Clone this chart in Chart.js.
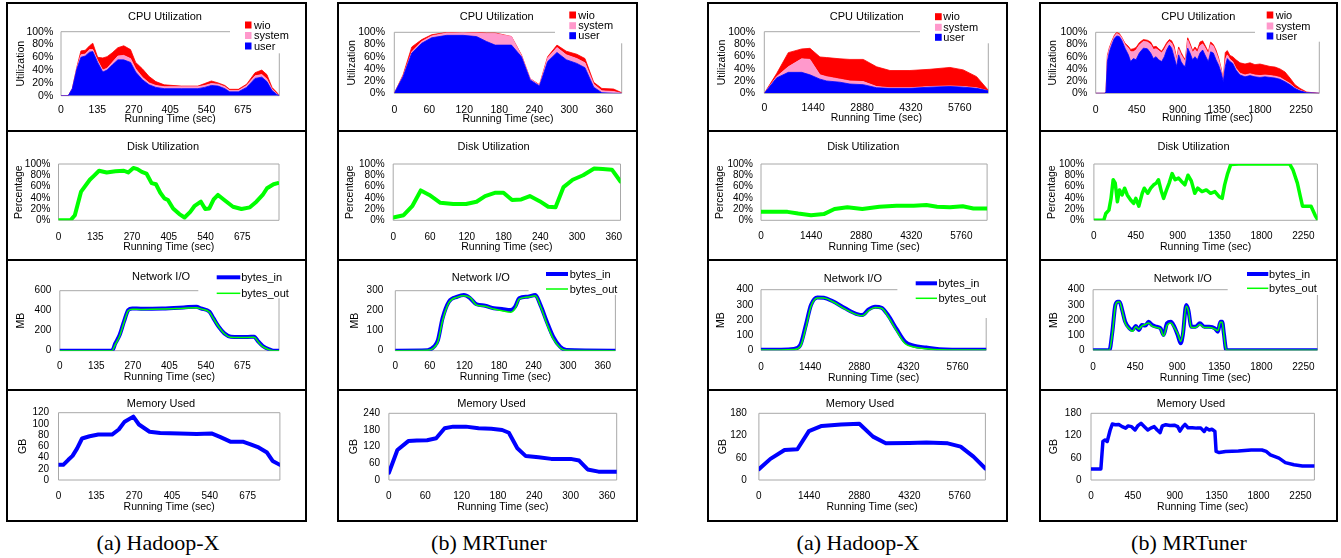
<!DOCTYPE html>
<html><head><meta charset="utf-8">
<script src="https://cdn.jsdelivr.net/npm/chart.js@4.4.1/dist/chart.umd.min.js"></script>
<style>
html,body{margin:0;padding:0;background:#fff;width:1341px;height:558px;overflow:hidden;position:relative;}
canvas{position:absolute;}
.col{position:absolute;border:2px solid #000;box-sizing:border-box;}
.hl{position:absolute;height:2px;background:#000;}
.cap{position:absolute;font-family:'Liberation Serif','Times New Roman',serif;font-size:22px;transform:translate(-50%,-50%);white-space:nowrap;color:#000;}
</style></head><body>
<script>
// ---------- tick labels ----------
const ticksHadoopA = [0,135,270,405,540,675];
const ticksTunerA  = [0,60,120,180,240,300,360];
const ticksHadoopB = [0,1440,2880,4320,5760];
const ticksTunerB  = [0,450,900,1350,1800,2250];
const pctTicks = [0,20,40,60,80,100];
const net1Ticks = [0,200,400,600];
const net2Ticks = [0,100,200,300];
const net34Ticks = [0,100,200,300,400];
const mem1Ticks = [0,20,40,60,80,100,120];
const mem2Ticks = [0,60,120,180,240];
const mem34Ticks = [0,60,120,180];

// ---------- column 1 (Hadoop-X, left pair) ----------
const c1CpuT    = [0,27,42,59,74,90,106,118,136,155,171,190,211,233,258,277,302,327,352,383,446,508,533,558,583,608,626,658,689,720,745,764,783,801,810];
const c1CpuUser = [0,0,11,42,60,62,68,69,52,37,40,48,56,56,52,37,25,17,13,11,11,11,13,16,15,11,6,6,13,27,29,22,8,2,0];
const c1CpuSys  = [0,0,0,2,4,3,4,3,3,3,3,4,6,7,6,5,4,3,3,3,3,3,3,3,3,3,2,2,3,4,4,4,2,1,0];
const c1CpuWio  = [0,0,0,1,6,6,6,10,5,19,18,15,13,15,14,10,13,10,6,3,1,1,3,4,2,2,2,2,2,5,7,7,3,2,0];
const c1DiskT = [0,44,60,83,115,130,149,177,209,240,256,275,290,306,323,342,358,374,389,402,421,444,463,484,499,523,539,554,570,586,609,641,672,703,727,750,766,790,805];
const c1Disk  = [0,0,9,51,72,79,88,85,87,88,85,93,91,86,83,66,64,49,39,36,21,11,5,15,25,33,20,21,37,45,36,24,20,23,33,45,57,64,66];
const c1NetT   = [0,193,205,221,237,253,268,300,379,458,505,521,553,568,587,608,632,663,695,718,734,750,774,790,810];
const c1NetIn  = [0,0,73,157,290,407,423,420,423,433,440,423,390,323,240,173,140,137,137,140,90,47,13,0,0];
const c1NetOut = [0,0,60,145,280,400,415,413,416,425,430,418,385,320,240,170,135,132,132,135,85,40,10,0,0];
const c1MemT = [0,17,35,50,66,84,111,142,191,215,236,267,287,325,363,432,493,546,576,615,660,683,714,744,764,790];
const c1Mem  = [27,27,36,43,56,74,78,81,81,90,104,113,99,86,84,83,82,83,77,68,68,64,58,49,34,27];

// ---------- column 2 (MRTuner, left pair) ----------
const c2CpuT    = [0,15,30,47,64,90,118,141,158,173,201,218,233,249,263,279,295,313,327,342,356,376,390];
const c2CpuUser = [0,27,66,82,91,95,95,93,85,79,79,60,22,12,52,67,55,49,42,10,1,0,0];
const c2CpuSys  = [0,1,2,3,3,4,4,6,13,19,14,2,2,1,6,8,8,8,8,5,3,3,0];
const c2CpuWio  = [0,2,8,3,2,1,0,1,1,1,0,1,0,1,2,4,6,7,7,3,4,4,1];
const c2DiskT = [0,17,31,45,59,77,98,119,136,150,167,180,194,209,223,239,253,265,278,293,310,328,342,357,371];
const c2Disk  = [5,9,25,53,45,31,29,29,33,43,49,49,36,37,43,34,24,23,59,72,80,92,91,90,69];
const c2NetT   = [0,56,67,74,82,93,108,119,130,141,156,171,185,200,208,215,230,243,252,263,274,286,297,382];
const c2NetIn  = [0,2,20,53,162,245,270,278,262,232,225,212,208,203,220,262,270,278,228,145,70,20,3,0];
const c2NetOut = [0,2,15,45,150,240,268,275,265,228,222,208,200,192,212,258,268,275,222,135,60,15,2,0];
const c2MemT = [0,14,32,46,63,78,92,106,127,148,169,187,198,212,226,247,268,300,314,328,346,376];
const c2Mem  = [26,108,140,142,143,150,186,192,192,186,184,180,170,114,86,82,76,76,70,38,30,30];

// ---------- column 3 (Hadoop-X, right pair) ----------
const c3CpuT    = [0,363,707,1100,1345,1640,1837,2230,2524,2917,3310,3703,4292,4881,5470,5863,6256,6600];
const c3CpuUser = [0,25,34,34,30,23,20,18,15,14,9,8,8,10,11,10,8,4];
const c3CpuSys  = [0,2,9,22,25,7,7,5,5,5,2,1,1,1,1,1,1,0];
const c3CpuWio  = [0,5,23,16,18,29,31,33,35,36,32,28,28,28,30,27,18,1];
const c3DiskT = [0,332,762,1069,1438,1806,2113,2482,2912,3404,3895,4387,4755,5062,5431,5800,6107,6500];
const c3Disk  = [15,15,15,12,9,11,20,23,20,24,26,26,27,24,23,25,21,21];
const c3NetT   = [0,589,964,1152,1315,1465,1653,1841,2092,2467,2843,2968,3156,3344,3532,3720,3970,4220,4471,4847,5223,5599,6600];
const c3NetIn  = [4,4,9,35,167,299,349,347,325,277,237,233,270,288,281,233,141,57,31,18,7,4,4];
const c3NetOut = [2,2,5,25,150,290,345,345,322,272,232,228,262,282,278,225,130,45,22,10,3,2,2];
const c3MemT = [0,331,736,1104,1435,1803,2355,2882,3274,3642,4317,4808,5421,5789,6157,6500];
const c3Mem  = [29,57,81,83,132,146,150,152,117,99,100,101,99,90,63,31];

// ---------- column 4 (MRTuner, right pair) ----------
const c4CpuT    = [0,102,113,128,150,175,204,230,259,285,321,358,383,413,442,478,522,566,602,632,661,690,723,752,778,807,832,858,887,909,935,960,982,1008,1033,1062,1088,1114,1143,1172,1197,1234,1260,1289,1318,1347,1376,1398,1420,1442,1471,1501,1537,1581,1636,1691,1745,1800,1855,1910,1965,2019,2074,2129,2184,2239,2312,2450];
const c4CpuUser = [0,0,3,52,68,79,90,94,93,87,74,63,52,57,55,66,74,73,66,57,60,55,52,60,71,79,74,60,44,63,52,46,44,74,66,55,60,55,66,71,63,52,68,66,55,46,33,19,44,57,52,49,38,30,27,29,27,26,27,26,25,23,19,14,8,4,1,0];
const c4CpuSys  = [0,0,0,8,5,4,3,4,3,4,6,11,16,11,16,13,11,11,14,15,13,15,14,12,8,6,8,13,11,9,11,11,8,13,12,12,12,12,12,10,12,13,12,11,12,9,5,2,11,6,4,3,3,3,3,3,3,3,3,3,3,3,2,2,1,1,0,0];
const c4CpuWio  = [0,0,0,2,2,2,2,2,2,1,2,3,4,5,4,4,3,3,4,4,4,3,3,4,4,3,4,5,2,4,4,3,3,4,4,3,4,4,6,5,4,3,4,3,4,3,2,1,12,7,6,8,14,17,18,18,17,19,16,15,15,14,14,9,5,3,1,0];
const c4DiskT = [0,106,128,161,184,207,229,252,275,303,330,358,395,427,450,482,519,541,578,610,642,670,693,725,748,780,808,840,872,909,941,977,1010,1046,1083,1115,1161,1207,1253,1299,1345,1377,1404,1436,1469,1551,2102,2139,2185,2217,2240,2332,2378,2400];
const c4Disk  = [0,0,12,18,39,72,66,33,54,45,57,45,36,30,39,25,48,57,48,57,63,66,72,51,39,54,66,83,72,75,69,63,80,70,48,57,51,54,48,51,42,39,63,83,99,100,100,89,66,42,25,25,8,2];
const c4NetT   = [0,174,206,238,265,283,311,343,389,421,457,489,521,558,594,631,677,722,754,791,832,869,905,937,960,997,1019,1051,1097,1143,1189,1243,1303,1335,1362,1381,1399,1426,2400];
const c4NetIn  = [0,0,123,299,321,321,266,189,145,134,160,134,167,163,189,167,156,145,101,178,189,156,101,46,101,299,266,156,156,178,156,156,145,123,189,189,112,0,0];
const c4NetOut = [0,0,110,290,318,318,262,180,140,125,155,140,160,170,180,160,150,140,95,165,180,150,110,60,110,290,260,150,150,170,150,150,140,130,185,185,105,0,0];
const c4MemT = [0,106,128,151,174,206,229,262,298,335,372,399,436,473,505,537,574,610,642,679,711,743,766,803,849,895,932,955,987,1010,1042,1088,1134,1180,1216,1239,1271,1299,1331,1344,1377,1446,1583,1721,1836,1882,1927,2019,2088,2180,2271,2400];
const c4Mem  = [30,30,104,108,104,135,151,149,150,144,140,146,144,135,147,153,144,135,140,144,135,128,146,149,147,148,144,132,144,150,141,141,140,140,131,140,135,137,131,77,74,77,78,81,81,77,68,59,47,41,38,38];

const captions = ['(a) Hadoop-X','(b) MRTuner','(a) Hadoop-X','(b) MRTuner'];

// ---------- layout / styling ----------
const FONT = "'Liberation Sans', Arial, Helvetica, sans-serif";
const BLUE = '#0000FF', PINK = '#FF99CC', RED = '#FF0000', GREEN = '#00FF00';
const colX = [[6,307],[337,638],[707,1008],[1039,1338]];
const rowY = [[2,131],[131,260],[260,390],[390,522]];

colX.forEach(([a,b]) => {
  const d = document.createElement('div'); d.className='col';
  d.style.left=a+'px'; d.style.top=rowY[0][0]+'px'; d.style.width=(b-a)+'px'; d.style.height=(rowY[3][1]-rowY[0][0])+'px';
  document.body.appendChild(d);
  [rowY[1][0],rowY[2][0],rowY[3][0]].forEach(y => {
    const h = document.createElement('div'); h.className='hl';
    h.style.left=a+'px'; h.style.top=(y-1)+'px'; h.style.width=(b-a)+'px';
    document.body.appendChild(h);
  });
});
[[158,543],[489,543],[858,543],[1189,543]].forEach(([x,y],i) => {
  const d = document.createElement('div'); d.className='cap'; d.textContent=captions[i];
  d.style.left=x+'px'; d.style.top=y+'px'; document.body.appendChild(d);
});

const pts = (t,v) => t.map((x,i)=>({x, y:v[i]}));
function cpuSets(t,u,s,w){
  return [
    {label:'user', data:pts(t,u), fill:'origin', backgroundColor:BLUE, borderColor:BLUE, borderWidth:0.8, tension:0},
    {label:'system', data:pts(t,s), fill:'-1', backgroundColor:PINK, borderColor:PINK, borderWidth:0.8, tension:0},
    {label:'wio', data:pts(t,w), fill:'-1', backgroundColor:RED, borderColor:RED, borderWidth:0.8, tension:0}
  ];
}
const lineSet = (t,v,color,w,smooth) => ({data:pts(t,v), fill:false, borderColor:color, borderWidth:w, tension:smooth?0.4:0, cubicInterpolationMode: smooth?'monotone':'default', borderJoinStyle:'round', borderCapStyle:'round'});
const netSets = (t,a,b) => [ {label:'bytes_in', order:2, ...lineSet(t,a,BLUE,4,true)}, {label:'bytes_out', order:1, ...lineSet(t,b,GREEN,1.5,true)} ];

function deco(p,x0,y0){
  return {
    id:'deco',
    beforeDatasetsDraw(chart){
      const ctx=chart.ctx, a=chart.chartArea;
      const topEnd = p.frame ? p.frame[0]-x0 : a.right;
      const rightStart = p.frame ? p.frame[1]-y0 : a.top;
      ctx.save(); ctx.strokeStyle='#A8A8A8'; ctx.lineWidth=1;
      ctx.beginPath();
      ctx.moveTo(a.left,a.bottom); ctx.lineTo(a.left,a.top); ctx.lineTo(topEnd,a.top);
      ctx.moveTo(a.right,rightStart); ctx.lineTo(a.right,a.bottom); ctx.lineTo(a.left,a.bottom);
      ctx.stroke(); ctx.restore();
    },
    afterDraw(chart){
      const ctx=chart.ctx;
      ctx.save();
      ctx.fillStyle='#000'; ctx.font='11px '+FONT; ctx.textAlign='center'; ctx.textBaseline='middle';
      ctx.fillText(p.title[0], p.title[1]-x0, p.title[2]-y0);
      if (p.legend) {
        const g=p.legend; ctx.textAlign='left';
        g.items.forEach((it,i)=>{
          const y=g.ys[i]-y0;
          if (g.kind==='box') { ctx.fillStyle=it[1]; ctx.fillRect(g.s[0]-x0, y-3.5, g.s[1]-g.s[0], 7); }
          else { ctx.strokeStyle=it[1]; ctx.lineWidth=it[2]; ctx.beginPath(); ctx.moveTo(g.s[0]-x0,y); ctx.lineTo(g.s[1]-x0,y); ctx.stroke(); }
          ctx.fillStyle='#000'; ctx.fillText(it[0], g.tx-x0, y+0.5);
        });
      }
      ctx.restore();
    }
  };
}

function panel(col,row,p){
  const [x0,x1]=colX[col], [y0,y1]=rowY[row];
  const W=x1-x0, H=y1-y0;
  const c=document.createElement('canvas');
  c.width=W; c.height=H; c.style.left=x0+'px'; c.style.top=y0+'px'; c.style.width=W+'px'; c.style.height=H+'px';
  document.body.appendChild(c);
  const L=p.plot[0]-x0, T=p.plot[1]-y0, R=p.plot[2]-x0, B=p.plot[3]-y0;
  const fsT=10.5, lhT=fsT*1.2, fsK=p.fsK||10, lhK=fsK*1.2;
  const padLeft=p.yTitleX-x0-lhT/2;
  const yW=L-padLeft;
  const xBottom=p.xTitleY-y0+lhT/2;
  const xH=xBottom-B;
  const yTickPad=L-(p.yTickRight-x0);
  const xTickPad=(p.xTickY-y0)-B-lhK/2;
  const tickFont={family:FONT,size:fsK};
  new Chart(c,{
    type:'line',
    data:{datasets:p.datasets},
    options:{
      responsive:false, animation:false, devicePixelRatio:1,
      layout:{padding:{left:padLeft,top:T,right:W-R,bottom:H-xBottom}},
      plugins:{legend:{display:false},tooltip:{enabled:false},title:{display:false}},
      elements:{point:{radius:0}},
      scales:{
        x:{type:'linear',min:0,max:p.xMax,
          grid:{display:false,drawTicks:false},border:{display:false},
          afterBuildTicks:s=>{s.ticks=p.xTicks.map(v=>({value:v}));},
          afterFit:s=>{s.height=xH;s.paddingLeft=0;s.paddingRight=0;},
          ticks:{autoSkip:false,maxRotation:0,minRotation:0,padding:xTickPad,color:'#000',font:tickFont,callback:v=>String(v)},
          title:{display:true,text:'Running Time (sec)',color:'#000',font:{family:FONT,size:fsT},padding:0}},
        y:{type:'linear',min:0,max:p.yMax,stacked:!!p.stacked,
          grid:{display:false,drawTicks:false},border:{display:false},
          afterBuildTicks:s=>{s.ticks=p.yTicks.map(v=>({value:v}));},
          afterFit:s=>{s.width=yW;s.paddingTop=0;s.paddingBottom=0;},
          ticks:{autoSkip:false,padding:yTickPad,color:'#000',font:tickFont,callback:v=>p.pct?v+'%':String(v)},
          title:{display:true,text:p.yTitle,color:'#000',font:{family:FONT,size:fsT},padding:0}}
      }
    },
    plugins:[deco(p,x0,y0)]
  });
}

const cpuLegend = (s,tx,ys)=>({kind:'box',s,tx,ys,items:[['wio',RED],['system',PINK],['user',BLUE]]});
const netLegend = (s,tx,ys)=>({kind:'line',s,tx,ys,items:[['bytes_in',BLUE,4],['bytes_out',GREEN,1.5]]});

// CPU row
const cpuBase={yMax:100,yTicks:pctTicks,pct:true,stacked:true,yTitle:'Utilization',fsK:10.5};
panel(0,0,{...cpuBase,plot:[61,31.7,279.3,95.7],yTickRight:53.3,yTitleX:20.7,xTickY:110,xTitleY:119.3,title:['CPU Utilization',165,16.7],
  legend:cpuLegend([245,251.5],254,[25,35.5,46]),frame:[230,53.3],xMax:810,xTicks:ticksHadoopA,datasets:cpuSets(c1CpuT,c1CpuUser,c1CpuSys,c1CpuWio)});
panel(1,0,{...cpuBase,plot:[394.3,32.3,621.7,93.3],yTickRight:385,yTitleX:351.7,xTickY:110,xTitleY:119.3,title:['CPU Utilization',496.7,17.3],
  legend:cpuLegend([569.3,576],578.3,[15,25.7,35.7]),frame:[555,43.3],xMax:390,xTicks:ticksTunerA,datasets:cpuSets(c2CpuT,c2CpuUser,c2CpuSys,c2CpuWio)});
panel(2,0,{...cpuBase,plot:[764.3,31.7,988.3,93.3],yTickRight:755,yTitleX:721.7,xTickY:108.3,xTitleY:118.3,title:['CPU Utilization',866.7,16.7],
  legend:cpuLegend([935,941.7],943.3,[16.7,27.3,37.3]),frame:[920,43.3],xMax:6600,xTicks:ticksHadoopB,datasets:cpuSets(c3CpuT,c3CpuUser,c3CpuSys,c3CpuWio)});
panel(3,0,{...cpuBase,plot:[1095.7,32.3,1319.3,93.3],yTickRight:1087.3,yTitleX:1052.7,xTickY:110,xTitleY:118.3,title:['CPU Utilization',1198.3,17.3],
  legend:cpuLegend([1266.7,1273.3],1275.7,[15,26,36]),frame:[1255,41.7],xMax:2450,xTicks:ticksTunerB,datasets:cpuSets(c4CpuT,c4CpuUser,c4CpuSys,c4CpuWio)});

// Disk row
const diskBase={yMax:100,yTicks:pctTicks,pct:true,yTitle:'Percentage',xTitleY:247.3};
panel(0,1,{...diskBase,plot:[58.5,164,279,220.3],yTickRight:50.4,yTitleX:19.2,xTickY:237.3,title:['Disk Utilization',163,146.7],xMax:810,xTicks:ticksHadoopA,datasets:[lineSet(c1DiskT,c1Disk,GREEN,4,false)]});
panel(1,1,{...diskBase,plot:[393.2,164,620.5,220.3],yTickRight:384.6,yTitleX:350.4,xTickY:237.3,title:['Disk Utilization',493.6,146.7],xMax:371,xTicks:ticksTunerA,datasets:[lineSet(c2DiskT,c2Disk,GREEN,4,false)]});
panel(2,1,{...diskBase,plot:[761,164,987.1,220.3],yTickRight:753,yTitleX:720.4,xTickY:236.7,title:['Disk Utilization',863.2,146.7],xMax:6500,xTicks:ticksHadoopB,datasets:[lineSet(c3DiskT,c3Disk,GREEN,4,false)]});
panel(3,1,{...diskBase,plot:[1093.9,164,1317.4,220.3],yTickRight:1084.5,yTitleX:1052.5,xTickY:236.7,title:['Disk Utilization',1193.5,146.7],xMax:2400,xTicks:ticksTunerB,datasets:[lineSet(c4DiskT,c4Disk,GREEN,3.5,false)]});

// Network row
const netBase={yTitle:'MB'};
panel(0,2,{...netBase,plot:[59.8,290.7,279,350.7],yMax:600,yTicks:net1Ticks,yTickRight:51.3,yTitleX:21.4,xTickY:366.7,xTitleY:376.7,title:['Network I/O',161,276.7],
  legend:netLegend([216.7,240.3],241.2,[277.3,293.3]),frame:[198.3,298.3],xMax:810,xTicks:ticksHadoopA,datasets:netSets(c1NetT,c1NetIn,c1NetOut)});
panel(1,2,{...netBase,plot:[395.3,290.7,615.4,350.7],yMax:300,yTicks:net2Ticks,yTickRight:383.3,yTitleX:354.7,xTickY:366.7,xTitleY:376.7,title:['Network I/O',480.8,278.3],
  legend:netLegend([546,568],569.7,[274,289]),frame:[528.6,295],xMax:382,xTicks:ticksTunerA,datasets:netSets(c2NetT,c2NetIn,c2NetOut)});
panel(2,2,{...netBase,plot:[761,289.7,986.2,350.3],yMax:400,yTicks:net34Ticks,yTickRight:753.3,yTitleX:721.3,xTickY:367.7,xTitleY:377.7,title:['Network I/O',852.9,279],
  legend:netLegend([915.7,937],938.4,[283.3,298.3]),frame:[897.4,318],xMax:6600,xTicks:ticksHadoopB,datasets:netSets(c3NetT,c3NetIn,c3NetOut)});
panel(3,2,{...netBase,plot:[1093.1,289.7,1317.4,350.3],yMax:400,yTicks:net34Ticks,yTickRight:1084.5,yTitleX:1054.6,xTickY:367.7,xTitleY:377.7,title:['Network I/O',1182.8,279],
  legend:netLegend([1247,1268.3],1269.1,[274,288.3]),frame:[1227.7,295],xMax:2400,xTicks:ticksTunerB,datasets:netSets(c4NetT,c4NetIn,c4NetOut)});

// Memory row
const memBase={yTitle:'GB',xTitleY:507.3};
panel(0,3,{...memBase,plot:[58.5,412.7,279.9,480],yMax:120,yTicks:mem1Ticks,yTickRight:49.1,yTitleX:23.5,xTickY:496.7,title:['Memory Used',161,404],xMax:790,xTicks:ticksHadoopA,datasets:[lineSet(c1MemT,c1Mem,BLUE,4,false)]});
panel(1,3,{...memBase,plot:[388.9,413.3,616.7,480],yMax:240,yTicks:mem2Ticks,yTickRight:380,yTitleX:353.8,xTickY:496.7,title:['Memory Used',491.5,404],xMax:376,xTicks:ticksTunerA,datasets:[lineSet(c2MemT,c2Mem,BLUE,4,false)]});
panel(2,3,{...memBase,plot:[758.9,413.3,985.4,480],yMax:180,yTicks:mem34Ticks,yTickRight:746.9,yTitleX:723.4,xTickY:496,title:['Memory Used',860,404],xMax:6500,xTicks:ticksHadoopB,datasets:[lineSet(c3MemT,c3Mem,BLUE,4,false)]});
panel(3,3,{...memBase,plot:[1091,413.3,1314.4,480],yMax:180,yTicks:mem34Ticks,yTickRight:1081.5,yTitleX:1054.6,xTickY:496,title:['Memory Used',1191,404],xMax:2400,xTicks:ticksTunerB,datasets:[lineSet(c4MemT,c4Mem,BLUE,3.5,false)]});
</script>
</body></html>
